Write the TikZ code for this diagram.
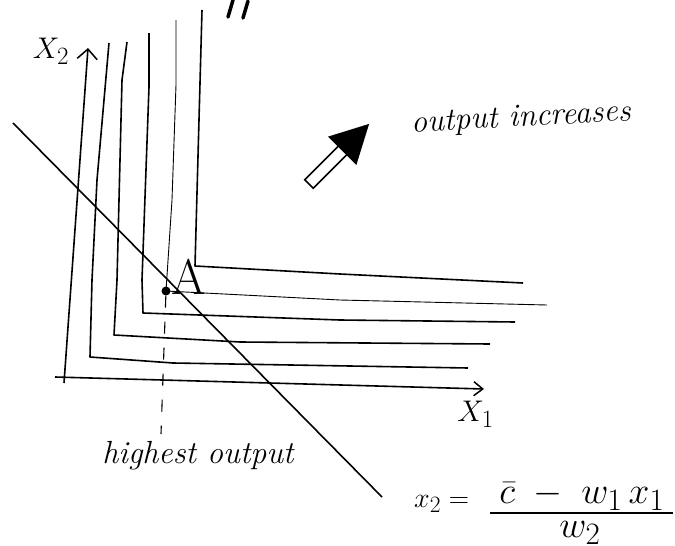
\documentclass[tikz,border=0pt]{standalone}
\usepackage{amsmath}
\usepackage{tikz}
\usetikzlibrary{arrows.meta, positioning, calc}

\begin{document}
\begin{tikzpicture}[
    x=1pt, y=-1pt,
    iso/.style={line width=1.6pt, line join=round},
    faint/.style={line width=0.9pt, line join=round},
    axis/.style={line width=1.6pt, -{Straight Barb[length=10pt, width=20pt, line width=1.5pt]}},
    guide/.style={line width=1.1pt, dash pattern=on 12pt off 14pt},
    budget/.style={line width=1.6pt},
    lbl/.style={font=\fontsize{32}{38}\selectfont\itshape, inner sep=0pt},
    sym/.style={font=\Huge, scale=1.2, inner sep=0pt},
    eqn/.style={font=\Huge, scale=1.5, inner sep=0pt}
]
\useasboundingbox (0,0) rectangle (675,546);

% axes
\coordinate (x1start) at (55,377);
\coordinate (x1end) at (484,389);
\coordinate (x2start) at (64,383);
\coordinate (x2end) at (88,48);
\draw[axis] (x2start) -- (x2end);
\draw[axis, -{Straight Barb[length=9pt, width=14pt, line width=1.5pt]}] (x1start) -- (x1end);
\node[sym] (x2lbl) at (51,51) {$X_2$};
\node[sym, below left=12pt and -10pt of x1end] (x1lbl) {$X_1$};

% isoquants, inner to outer
\draw[iso] (202,10) -- (195,266) -- (340,274) -- (523,283);
\draw[faint] (176,20) -- (176,85) -- (172,200) -- (166,291) -- (340,300) -- (547,305);
\draw[iso] (149,33) -- (149,87) -- (142,280) -- (143,313) -- (340,320) -- (515,322);
\draw[iso] (127,42) -- (122,80) -- (117,280) -- (114,335) -- (240,342) -- (490,344);
\draw[iso] (109,43) -- (97,180) -- (92,280) -- (90,357) -- (173,363) -- (468,368);

% budget line
\coordinate (bstart) at (13,123);
\coordinate (bend) at (382,497);
\draw[budget] (bstart) -- (bend);

% tangency point
\node[circle, fill, inner sep=0pt, minimum size=9pt] (ptA) at (166,291) {};
\node[font=\fontsize{50}{56}\selectfont, inner sep=0pt] (albl) at (189,277) {A};
\draw[guide] (ptA) -- (161,434);
\node[lbl] (hilbl) at (198,456) {highest output};

% direction of higher output
\coordinate (tail) at (309,184);
\begin{scope}[shift={(tail)}, rotate=45]
  \draw[line width=1.6pt, fill=white] (0,-6) rectangle (50,6);
  \fill (47,-20) -- (85,0) -- (47,20) -- cycle;
\end{scope}
\node[lbl, rotate=3] (uplbl) at (521,119) {output increases};

% equation of the budget line
\node[font=\Huge, scale=1.13, inner sep=0pt, anchor=base west] (eqlhs) at (414,507) {$x_2 =$};
\node[eqn, anchor=base west] (eqnum) at (499,503) {$\bar{c} \;-\; w_1\,x_1$};
\coordinate (barl) at (490,513);
\coordinate (barr) at (673,513);
\draw[line width=1.8pt] (barl) -- (barr);
\node[eqn, anchor=base] (eqden) at (580,537) {$w_2$};

% cut-off strokes at the top edge
\draw[line width=3.5pt, line cap=round] (233,0) -- (228,17);
\draw[line width=3.5pt, line cap=round] (248,1) -- (243,18);
\end{tikzpicture}
\end{document}
